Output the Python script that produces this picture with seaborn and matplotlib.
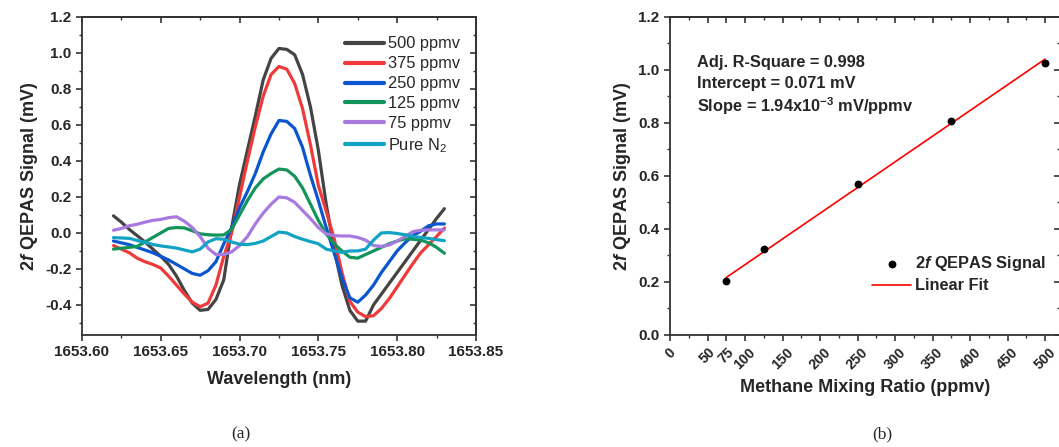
import numpy as np
import pandas as pd
import seaborn as sns
import matplotlib.pyplot as plt
from matplotlib.ticker import MultipleLocator, FixedLocator

# (a) 2f QEPAS spectra, wavelength grid in nm
wavelength = [1653.620, 1653.625, 1653.630, 1653.635, 1653.640, 1653.645, 1653.650,
              1653.655, 1653.660, 1653.665, 1653.670, 1653.675, 1653.680, 1653.685,
              1653.690, 1653.695, 1653.700, 1653.705, 1653.710, 1653.715, 1653.720,
              1653.725, 1653.730, 1653.735, 1653.740, 1653.745, 1653.750, 1653.755,
              1653.760, 1653.765, 1653.770, 1653.775, 1653.780, 1653.785, 1653.790,
              1653.795, 1653.800, 1653.805, 1653.810, 1653.815, 1653.820, 1653.825,
              1653.830]

sig_500 = [0.095, 0.06, 0.02, -0.015, -0.05, -0.09, -0.13, -0.175, -0.24, -0.32, -0.39,
           -0.43, -0.425, -0.37, -0.26, 0.03, 0.27, 0.46, 0.65, 0.85, 0.97, 1.025, 1.02,
           0.99, 0.88, 0.70, 0.46, 0.16, -0.09, -0.29, -0.43, -0.49, -0.49, -0.40, -0.34,
           -0.28, -0.22, -0.16, -0.10, -0.04, 0.02, 0.08, 0.135]
sig_375 = [-0.07, -0.09, -0.11, -0.14, -0.16, -0.175, -0.195, -0.24, -0.29, -0.34, -0.385,
           -0.41, -0.39, -0.29, -0.13, 0.0, 0.20, 0.40, 0.59, 0.76, 0.88, 0.925, 0.91,
           0.83, 0.69, 0.49, 0.265, 0.12, -0.03, -0.22, -0.38, -0.44, -0.465, -0.46, -0.42,
           -0.365, -0.30, -0.235, -0.17, -0.11, -0.065, -0.02, 0.027]
sig_250 = [-0.045, -0.055, -0.065, -0.08, -0.095, -0.11, -0.13, -0.15, -0.175, -0.20,
           -0.225, -0.235, -0.21, -0.16, -0.06, 0.03, 0.14, 0.23, 0.33, 0.45, 0.55, 0.625,
           0.62, 0.58, 0.475, 0.32, 0.18, 0.03, -0.11, -0.25, -0.36, -0.385, -0.345, -0.29,
           -0.22, -0.16, -0.10, -0.055, -0.015, 0.01, 0.04, 0.05, 0.05]
sig_125 = [-0.09, -0.085, -0.08, -0.075, -0.05, -0.025, 0.0, 0.025, 0.03, 0.028, 0.012,
           -0.005, -0.01, -0.012, -0.011, 0.02, 0.10, 0.18, 0.25, 0.30, 0.33, 0.355, 0.35,
           0.315, 0.25, 0.16, 0.07, -0.005, -0.06, -0.10, -0.135, -0.14, -0.12, -0.10,
           -0.08, -0.06, -0.045, -0.033, -0.035, -0.04, -0.055, -0.08, -0.113]
sig_75 = [0.015, 0.025, 0.04, 0.048, 0.06, 0.07, 0.075, 0.085, 0.09, 0.065, 0.03, -0.02,
          -0.085, -0.12, -0.12, -0.105, -0.07, -0.02, 0.05, 0.11, 0.16, 0.20, 0.195, 0.17,
          0.125, 0.08, 0.03, -0.005, -0.015, -0.017, -0.017, -0.025, -0.04, -0.07, -0.075,
          -0.067, -0.045, -0.02, 0.007, 0.015, 0.017, 0.017, 0.017]
sig_n2 = [-0.026, -0.028, -0.03, -0.042, -0.052, -0.064, -0.072, -0.078, -0.084, -0.095,
          -0.105, -0.09, -0.05, -0.032, -0.035, -0.05, -0.063, -0.065, -0.058, -0.045,
          -0.02, 0.005, 0.0, -0.02, -0.035, -0.048, -0.06, -0.09, -0.1, -0.108, -0.1, -0.1,
          -0.09, -0.04, 0.0, 0.002, -0.003, -0.01, -0.02, -0.025, -0.03, -0.037, -0.043]

series_names = ['500 ppmv', '375 ppmv', '250 ppmv', '125 ppmv', '75 ppmv', 'Pure N$_2$']
series_colors = ['#444444', '#f03a3a', '#0a55d0', '#12945a', '#a87ae0', '#12a2c4']

# (b) peak signal vs concentration
conc = [75, 125, 250, 375, 500]
peak = [0.202, 0.326, 0.569, 0.806, 1.027]
fit_x = [75, 500]
fit_y = [0.217, 1.041]
x_ticks_b = [0, 50, 75, 100, 150, 200, 250, 300, 350, 400, 450, 500]

sns.set_style('ticks')
plt.rcParams['font.family'] = ['Liberation Sans', 'DejaVu Sans']
plt.rcParams['mathtext.fontset'] = 'custom'
plt.rcParams['mathtext.rm'] = 'Liberation Sans'
plt.rcParams['mathtext.it'] = 'Liberation Sans:italic:bold'
plt.rcParams['mathtext.bf'] = 'Liberation Sans:bold'

spine_c = '#333333'

df = pd.DataFrame({
    'wl': np.tile(wavelength, 6),
    'sig': sig_500 + sig_375 + sig_250 + sig_125 + sig_75 + sig_n2,
    'gas': np.repeat(series_names, len(wavelength)),
})

fig = plt.figure(figsize=(10.59, 4.47), dpi=100)
ax1 = fig.add_axes([0.0774, 0.2506, 0.372, 0.7114])
ax2 = fig.add_axes([0.6327, 0.2506, 0.3683, 0.7114])

sns.lineplot(data=df, x='wl', y='sig', hue='gas', hue_order=series_names,
             palette=series_colors, linewidth=2.3, ax=ax1, sort=False)

ax1.set_xlim(1653.60, 1653.85)
ax1.set_ylim(-0.567, 1.2)
ax1.xaxis.set_major_locator(MultipleLocator(0.05))
ax1.xaxis.set_minor_locator(MultipleLocator(0.025))
ax1.yaxis.set_major_locator(FixedLocator([-0.4, -0.2, 0.0, 0.2, 0.4, 0.6, 0.8, 1.0, 1.2]))
ax1.yaxis.set_minor_locator(MultipleLocator(0.1))
ax1.set_xticklabels([f'{v:.2f}' for v in ax1.get_xticks()])
ax1.set_yticklabels([f'{v:.1f}' for v in ax1.get_yticks()])
ax1.set_xlabel('Wavelength (nm)', fontsize=13, fontweight='bold', labelpad=8)
ax1.set_ylabel(r'2$\it{f}$ QEPAS Signal (mV)', fontsize=13, fontweight='bold', labelpad=4)
leg = ax1.legend(loc='upper right', frameon=False, fontsize=11.8, handlelength=2.4,
                 handletextpad=0.25, labelspacing=0.3, borderaxespad=0.3,
                 bbox_to_anchor=(0.99, 0.975))
for ln in leg.get_lines():
    ln.set_linewidth(3)

# (b)
sns.scatterplot(x=conc, y=peak, color='black', s=32, edgecolor='black', linewidth=0,
                ax=ax2, label=r'2$\it{f}$ QEPAS Signal', zorder=3)
sns.lineplot(x=fit_x, y=fit_y, color='red', linewidth=1.2, ax=ax2, label='Linear Fit')

ax2.set_xlim(0, 520)
ax2.set_ylim(0, 1.2)
ax2.set_xticks(x_ticks_b)
ax2.set_xticklabels([str(v) for v in x_ticks_b], rotation=45, ha='center')
ax2.xaxis.set_minor_locator(FixedLocator([25, 125, 175, 225, 275, 325, 375, 425, 475]))
ax2.yaxis.set_major_locator(MultipleLocator(0.2))
ax2.yaxis.set_minor_locator(MultipleLocator(0.1))
ax2.set_yticklabels([f'{v:.1f}' for v in ax2.get_yticks()])
ax2.set_xlabel('Methane Mixing Ratio (ppmv)', fontsize=13, fontweight='bold', labelpad=5)
ax2.set_ylabel(r'2$\it{f}$ QEPAS Signal (mV)', fontsize=13, fontweight='bold', labelpad=4)
leg2 = ax2.legend(loc='upper left', bbox_to_anchor=(0.48, 0.30), frameon=False,
                  prop={'weight': 'bold', 'size': 11.8}, handlelength=2.4,
                  handletextpad=0.2, labelspacing=0.3)

ax2.text(0.07, 0.858, 'Adj. R-Square = 0.998', transform=ax2.transAxes,
         fontsize=11.8, fontweight='bold', va='center')
ax2.text(0.07, 0.792, 'Intercept = 0.071 mV', transform=ax2.transAxes,
         fontsize=11.8, fontweight='bold', va='center')
ax2.text(0.07, 0.72, r'Slope = 1.94x10$^{\mathbf{-3}}$ mV/ppmv', transform=ax2.transAxes,
         fontsize=11.8, fontweight='bold', va='center')

for ax in (ax1, ax2):
    for s in ax.spines.values():
        s.set_visible(True)
        s.set_linewidth(1.3)
        s.set_color(spine_c)
    ax.tick_params(which='major', direction='out', length=4, width=1.2, color=spine_c,
                   labelsize=11)
    ax.tick_params(which='minor', direction='out', length=2.2, width=1.0, color=spine_c)
    for lab in ax.get_xticklabels() + ax.get_yticklabels():
        lab.set_fontweight('bold')
    # mirrored inward ticks on top and right
    top = ax.secondary_xaxis('top')
    top.xaxis.set_major_locator(FixedLocator(list(ax.get_xticks())))
    top.xaxis.set_minor_locator(FixedLocator(list(ax.xaxis.get_minorticklocs())))
    top.tick_params(which='major', direction='in', length=4, width=1.2, color=spine_c,
                    labeltop=False)
    top.tick_params(which='minor', direction='in', length=2.2, width=1.0, color=spine_c)
    top.spines['top'].set_linewidth(1.3)
    top.spines['top'].set_color(spine_c)
    right = ax.secondary_yaxis('right')
    right.yaxis.set_major_locator(FixedLocator(list(ax.get_yticks())))
    right.yaxis.set_minor_locator(FixedLocator(list(ax.yaxis.get_minorticklocs())))
    right.tick_params(which='major', direction='in', length=4, width=1.2, color=spine_c,
                      labelright=False)
    right.tick_params(which='minor', direction='in', length=2.2, width=1.0, color=spine_c)
    right.spines['right'].set_linewidth(1.3)
    right.spines['right'].set_color(spine_c)

ax2.tick_params(axis='x', labelsize=10.3)

fig.text(0.227, 0.02, '(a)', family='Liberation Serif', fontsize=12.5, ha='center')
fig.text(0.833, 0.02, '(b)', family='Liberation Serif', fontsize=12.5, ha='center')

fig.savefig('out.png', dpi=100)
